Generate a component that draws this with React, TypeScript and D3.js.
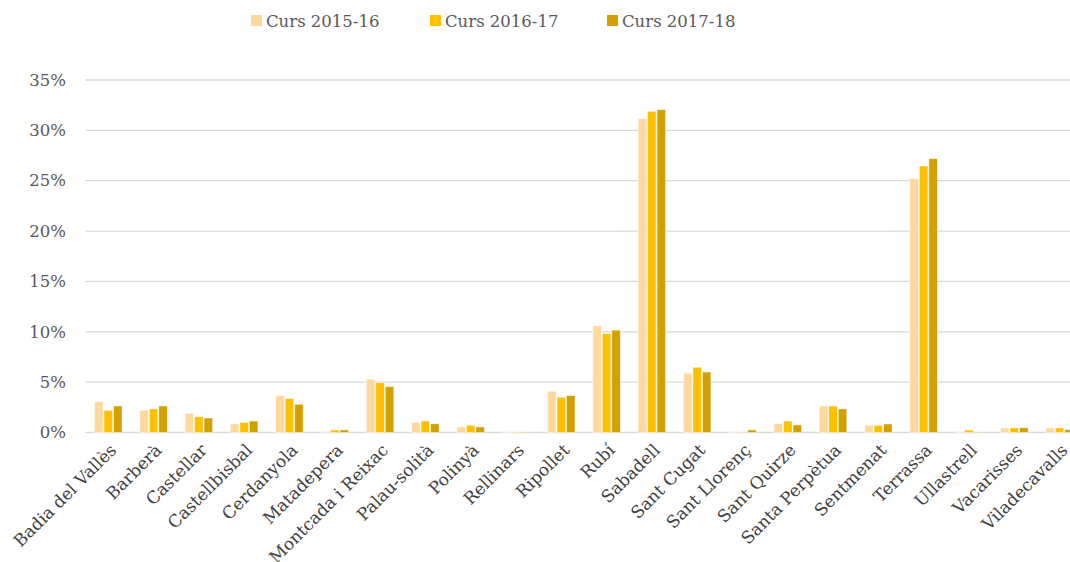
import * as d3 from "d3"
import { useRef, useEffect } from "react"

const municipis = [
  "Badia del Vallès", "Barberà", "Castellar", "Castellbisbal", "Cerdanyola", "Matadepera",
  "Montcada i Reixac", "Palau-solità", "Polinyà", "Rellinars", "Ripollet", "Rubí", "Sabadell",
  "Sant Cugat", "Sant Llorenç", "Sant Quirze", "Santa Perpètua", "Sentmenat", "Terrassa",
  "Ullastrell", "Vacarisses", "Viladecavalls",
]
const curs1516 = [3.06, 2.2, 1.9, 0.85, 3.66, 0.02, 5.29, 1.0, 0.55, 0.05, 4.1, 10.59, 31.16, 5.88, 0.02, 0.87, 2.63, 0.71, 25.2, 0.02, 0.45, 0.45]
const curs1617 = [2.2, 2.34, 1.57, 1.0, 3.36, 0.25, 4.95, 1.14, 0.71, 0.05, 3.5, 9.82, 31.89, 6.48, 0.03, 1.14, 2.63, 0.71, 26.46, 0.25, 0.45, 0.45]
const curs1718 = [2.63, 2.63, 1.44, 1.14, 2.8, 0.25, 4.55, 0.87, 0.55, 0.05, 3.66, 10.16, 32.06, 6.01, 0.25, 0.75, 2.34, 0.85, 27.19, 0.05, 0.48, 0.28]
const seriesNames = ["Curs 2015-16", "Curs 2016-17", "Curs 2017-18"]
const yTicks = [0, 5, 10, 15, 20, 25, 30, 35]

const colors = ["#FFD89E", "#FFC000", "#D4A000"]
const FONT = "'DejaVu Serif', serif"

export default function App() {
  const svgRef = useRef<SVGSVGElement>(null)

  useEffect(() => {
    if (!svgRef.current) return
    const width = 1070
    const svg = d3.select(svgRef.current)
    svg.selectAll("*").remove()

    const series = [curs1516, curs1617, curs1718]
    const margin = { left: 85.6, top: 80, bottom: 432.5 }

    const x = d3
      .scaleBand()
      .domain(municipis)
      .range([margin.left, margin.left + 22 * 45.3])
      .paddingInner(0.37)
      .paddingOuter(0.185)
    const xInner = d3.scaleBand().domain(seriesNames).range([0, x.bandwidth()])
    const y = d3.scaleLinear().domain([0, 35]).range([margin.bottom, margin.top])

    // grid
    svg
      .append("g")
      .selectAll("line")
      .data(yTicks)
      .enter()
      .append("line")
      .attr("x1", margin.left)
      .attr("x2", width)
      .attr("y1", (d) => y(d))
      .attr("y2", (d) => y(d))
      .attr("stroke", "#D9D9D9")
      .attr("stroke-width", 1.3)

    svg
      .append("g")
      .selectAll("text")
      .data(yTicks)
      .enter()
      .append("text")
      .attr("x", 66)
      .attr("y", (d) => y(d))
      .attr("dy", "0.35em")
      .attr("text-anchor", "end")
      .style("font-family", FONT)
      .style("font-size", "16.5px")
      .style("fill", "#595959")
      .text((d) => `${d}%`)

    // bars
    series.forEach((vals, si) => {
      svg
        .append("g")
        .selectAll("rect")
        .data(vals)
        .enter()
        .append("rect")
        .attr("x", (_d, i) => (x(municipis[i]) ?? 0) + (xInner(seriesNames[si]) ?? 0) + 0.5)
        .attr("y", (d) => y(d))
        .attr("width", xInner.bandwidth() - 1)
        .attr("height", (d) => y(0) - y(d))
        .attr("fill", colors[si])
        .attr("stroke", "#FFFFFF")
        .attr("stroke-opacity", 0.6)
        .attr("stroke-width", 0.8)
    })

    // x labels
    svg
      .append("g")
      .selectAll("text")
      .data(municipis)
      .enter()
      .append("text")
      .attr("transform", (d) => `translate(${(x(d) ?? 0) + x.bandwidth() / 2 + 5},${447}) rotate(-45)`)
      .attr("text-anchor", "end")
      .attr("dy", "0.35em")
      .style("font-family", FONT)
      .style("font-size", "17px")
      .style("fill", "#404040")
      .text((d) => d)

    // legend
    const legendX = [251, 430, 607]
    const legend = svg.append("g")
    seriesNames.forEach((name, i) => {
      legend
        .append("rect")
        .attr("x", legendX[i])
        .attr("y", 15)
        .attr("width", 11)
        .attr("height", 11)
        .attr("fill", colors[i])
      legend
        .append("text")
        .attr("x", legendX[i] + 15)
        .attr("y", 27)
        .style("font-family", FONT)
        .style("font-size", "16.5px")
        .style("fill", "#595959")
        .text(name)
    })
  }, [])

  return (
    <svg
      ref={svgRef}
      width={1070}
      height={562}
      style={{ position: "absolute", left: 0, top: 0, background: "#fff" }}
    ></svg>
  )
}
